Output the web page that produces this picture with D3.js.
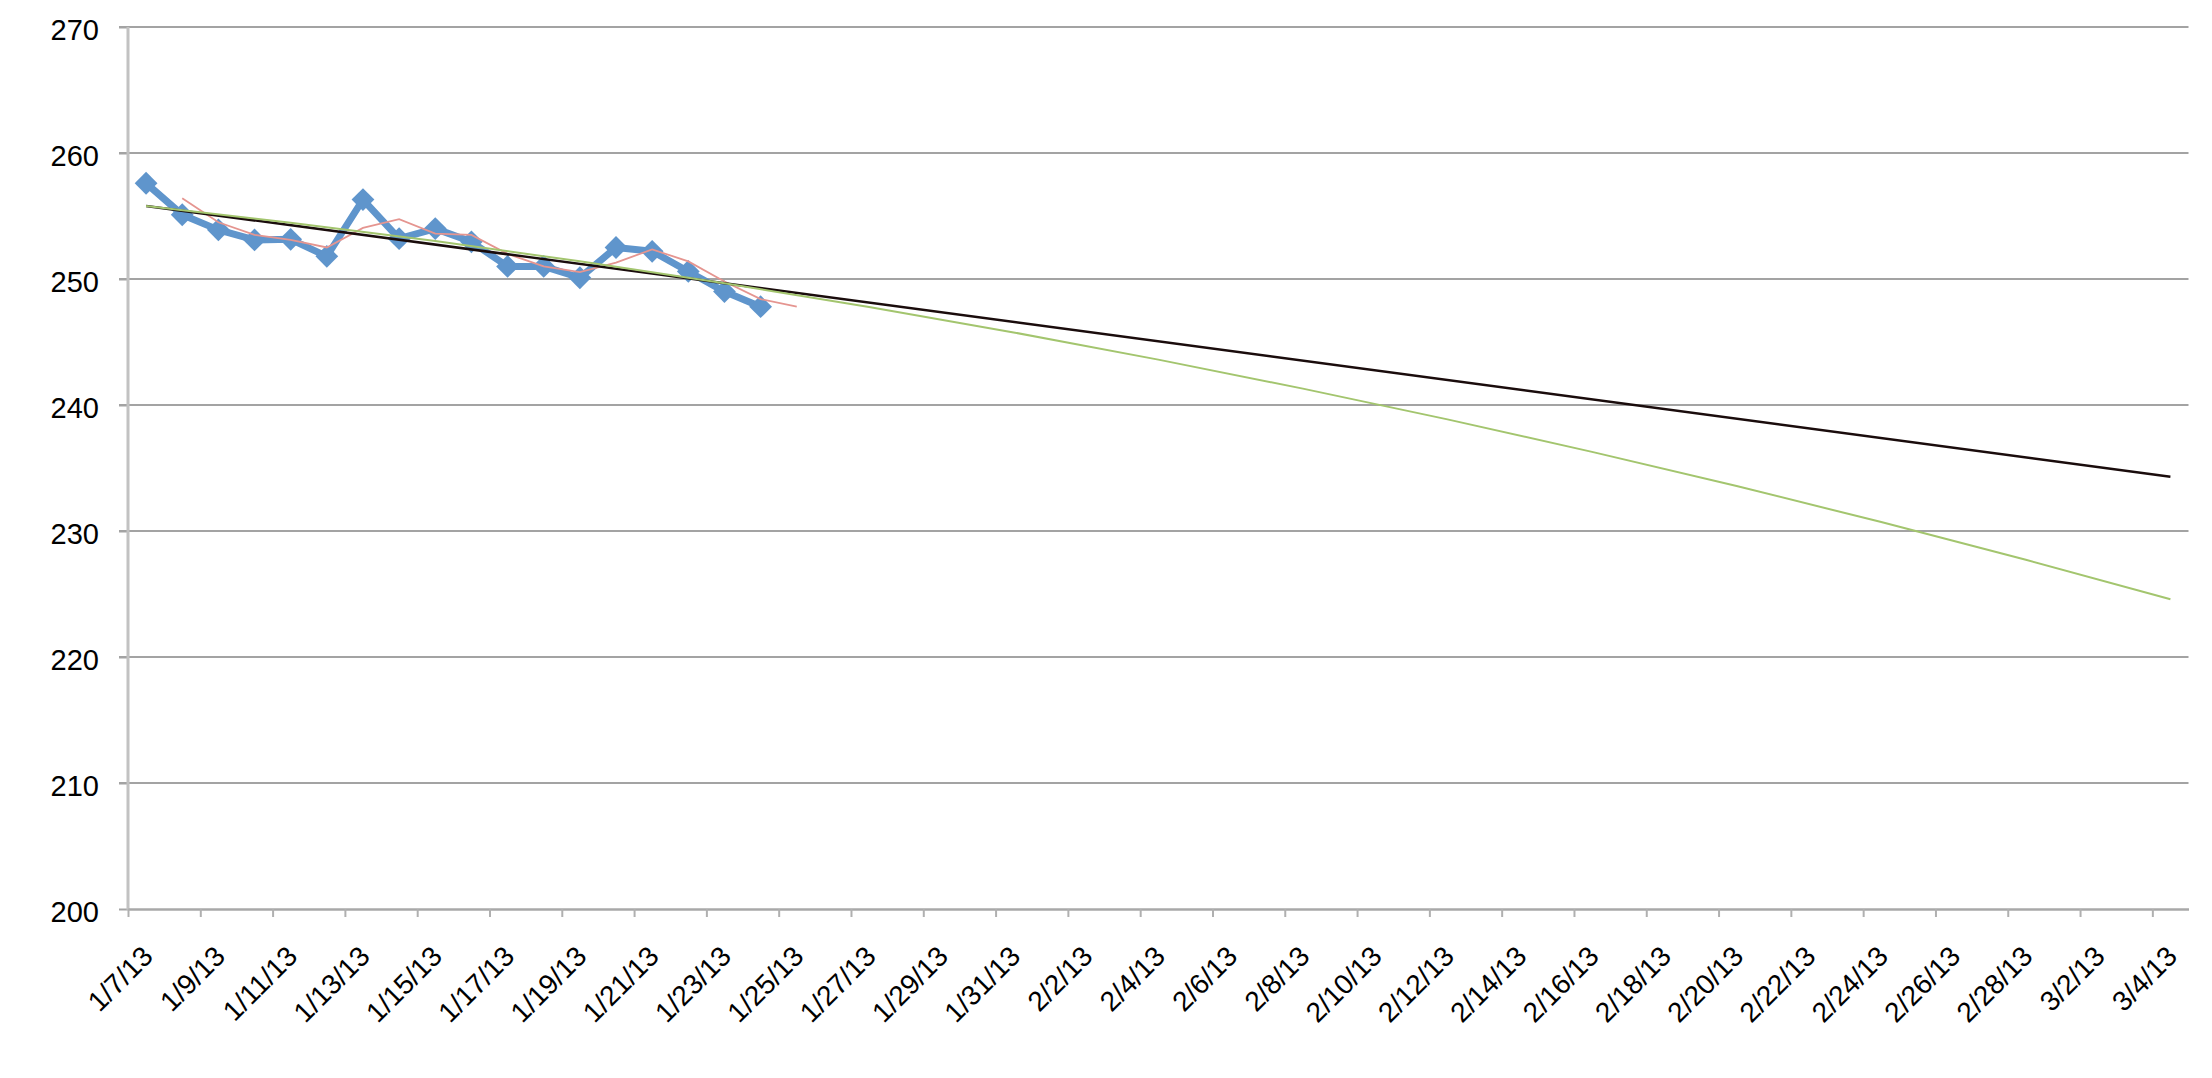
<!DOCTYPE html>
<html>
<head>
<meta charset="utf-8">
<script src="https://cdn.jsdelivr.net/npm/d3@7"></script>
<style>
  html, body { margin: 0; padding: 0; background: #fff; }
  svg { display: block; }
  text { font-family: "Liberation Sans", Arial, sans-serif; fill: #000; }
</style>
</head>
<body>
<svg id="chart" width="2212" height="1078"></svg>
<script>
// ---- data ----
const seriesDates = ["1/7/13","1/8/13","1/9/13","1/10/13","1/11/13","1/12/13","1/13/13","1/14/13","1/15/13",
  "1/16/13","1/17/13","1/18/13","1/19/13","1/20/13","1/21/13","1/22/13","1/23/13","1/24/13"];
const seriesValues = [257.6, 255.1, 253.9, 253.1, 253.15, 251.8, 256.3, 253.2, 254.0,
  252.95, 251.0, 251.0, 250.1, 252.5, 252.2, 250.6, 249.0, 247.8];

// 2-period moving average trendline (red)
const maDates = ["1/8/13","1/9/13","1/10/13","1/11/13","1/12/13","1/13/13","1/14/13","1/15/13","1/16/13",
  "1/17/13","1/18/13","1/19/13","1/20/13","1/21/13","1/22/13","1/23/13","1/24/13","1/25/13"];
const maValues = [256.4, 254.5, 253.5, 253.1, 252.5, 254.05, 254.75, 253.6, 253.5,
  252.0, 251.0, 250.55, 251.3, 252.35, 251.4, 249.8, 248.4, 247.8];

// linear trendline (black)
const linearDates = ["1/7/13", "3/4/13"];
const linearValues = [255.8, 234.3];

// polynomial trendline (green)
const polyDates = ["1/7/13","1/11/13","1/15/13","1/19/13","1/23/13","1/27/13","1/31/13","2/4/13",
  "2/8/13","2/12/13","2/16/13","2/20/13","2/24/13","2/28/13","3/4/13"];
const polyValues = [255.8, 254.47, 253.01, 251.4, 249.66, 247.78, 245.76, 243.6,
  241.3, 238.86, 236.28, 233.57, 230.71, 227.72, 224.58];

// axes
const xStart = "1/7/13", xEnd = "3/5/13";   // day slots 1/7 .. 3/4
const tickStepDays = 2;
const yTicks = [200, 210, 220, 230, 240, 250, 260, 270];

// ---- drawing ----
(function () {
const parse = d3.utcParse("%m/%d/%y");
const fmt = d3.utcFormat("%-m/%-d/%y");
const mid = s => d3.utcHour.offset(parse(s), 12);

const pL = 128, pR = 2188.5, pT = 27, pB = 909;
const svg = d3.select("#chart");

const x = d3.scaleUtc().domain([parse(xStart), parse(xEnd)]).range([pL, pR]);
const y = d3.scaleLinear().domain([200, 270]).range([pB, pT]);

// gridlines
svg.append("g").selectAll("line").data(yTicks.filter(v => v > 200)).join("line")
  .attr("x1", pL - 9).attr("x2", pR)
  .attr("y1", d => y(d)).attr("y2", d => y(d))
  .attr("stroke", "#a3a3a3").attr("stroke-width", 2);

// y axis
const yAxis = svg.append("g").attr("transform", `translate(${pL},0)`)
  .call(d3.axisLeft(y).tickValues(yTicks).tickSize(9).tickPadding(20).tickFormat(d3.format("d")));
yAxis.select(".domain").remove();
yAxis.selectAll(".tick line").attr("stroke", "#a3a3a3").attr("stroke-width", 2);
yAxis.selectAll(".tick text").attr("font-size", 29).attr("dy", "0.42em")
  .style("font-family", '"Liberation Sans", Arial, sans-serif');
svg.append("line").attr("x1", pL).attr("x2", pL).attr("y1", pT).attr("y2", pB + 1)
  .attr("stroke", "#c2c2c2").attr("stroke-width", 3);

// x axis
const xTickVals = d3.utcDay.range(parse(xStart), parse(xEnd), tickStepDays);
const xAxis = svg.append("g").attr("transform", `translate(0,${pB})`)
  .call(d3.axisBottom(x).tickValues(xTickVals).tickSize(8).tickSizeOuter(0).tickFormat(fmt));
xAxis.select(".domain").attr("stroke", "#a8a8a8").attr("stroke-width", 2.5);
xAxis.selectAll(".tick line").attr("stroke", "#b0b0b0").attr("stroke-width", 2);
xAxis.selectAll(".tick text")
  .attr("font-size", 28)
  .style("font-family", '"Liberation Sans", Arial, sans-serif')
  .attr("text-anchor", "end")
  .attr("dy", null).attr("y", null)
  .attr("transform", "translate(26,49) rotate(-45)");

const lineGen = d3.line().x(d => x(mid(d[0]))).y(d => y(d[1]));

// main series
const mainPts = seriesDates.map((d, i) => [d, seriesValues[i]]);
svg.append("path").datum(mainPts).attr("d", lineGen)
  .attr("fill", "none").attr("stroke", "#5f95cc").attr("stroke-width", 7)
  .attr("stroke-linejoin", "round");
svg.append("g").selectAll("path").data(mainPts).join("path")
  .attr("d", d3.symbol(d3.symbolSquare, 260)())
  .attr("transform", d => `translate(${x(mid(d[0]))},${y(d[1])}) rotate(45)`)
  .attr("fill", "#5f95cc");

// moving average
svg.append("path").datum(maDates.map((d, i) => [d, maValues[i]])).attr("d", lineGen)
  .attr("fill", "none").attr("stroke", "#e59590").attr("stroke-width", 1.8);

// linear trend
svg.append("path").datum(linearDates.map((d, i) => [d, linearValues[i]])).attr("d", lineGen)
  .attr("fill", "none").attr("stroke", "#1a0c0c").attr("stroke-width", 2.5);

// polynomial trend
svg.append("path").datum(polyDates.map((d, i) => [d, polyValues[i]]))
  .attr("d", lineGen.curve(d3.curveNatural))
  .attr("fill", "none").attr("stroke", "#a3c56e").attr("stroke-width", 2);
})();
</script>
</body>
</html>
